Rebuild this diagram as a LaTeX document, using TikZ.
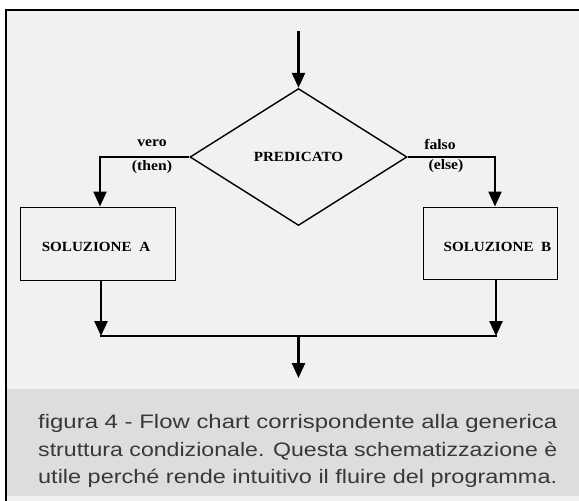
\documentclass[tikz,border=0pt]{standalone}
\usepackage{graphicx}
\usepackage{fontspec}
\setmainfont{Liberation Serif}
\newfontfamily\capfont{Liberation Sans}
\usetikzlibrary{shapes.geometric,arrows.meta}
\definecolor{paper}{HTML}{F1F1F0}
\definecolor{band}{HTML}{DDDDDC}
\definecolor{captext}{HTML}{383838}
\newcommand{\wide}[1]{\scalebox{1.08}[1]{#1}}
\newcommand{\capfit}[1]{\resizebox{519pt}{\height}{#1}}
\begin{document}
\begin{tikzpicture}[x=1pt,y=-1pt,
  flow/.style={line width=2.4pt,-{Triangle[width=13pt,length=15pt]}},
  plain/.style={line width=2.4pt},
  box/.style={draw,line width=1pt,rectangle,inner sep=0pt},
  boxtext/.style={font=\fontsize{14}{16}\selectfont\bfseries,inner sep=0pt},
  lbl/.style={font=\fontsize{14.5}{16}\selectfont\bfseries,inner sep=0pt},
  capline/.style={font=\capfont\fontsize{19.5}{24}\selectfont,text=captext,anchor=base west,inner sep=0pt}]
\useasboundingbox (0,0) rectangle (579,501);
\fill[white] (0,0) rectangle (579,501);
\fill[paper] (6,10) rectangle (579,501);
\fill[band] (6,389) rectangle (579,496);
\draw[line width=2.6pt] (579,10) -- (6,10) -- (6,501);
% nodes
\node[draw,diamond,line width=1.4pt,minimum width=217pt,minimum height=137pt,aspect=1.58,inner sep=0pt,
  font=\fontsize{14}{16}\selectfont\bfseries] (d) at (298.5,157) {\wide{PREDICATO}};
\node[box,minimum width=155pt,minimum height=73pt] (A) at (97.5,243.5) {};
\node[boxtext] (At) at (96,247) {\wide{SOLUZIONE\ \ A}};
\node[box,minimum width=134pt,minimum height=72pt] (B) at (490,243) {};
\node[boxtext] (Bt) at (497.5,247) {\wide{SOLUZIONE\ \ B}};
\coordinate (start) at (298.5,31);
\coordinate (jA) at (101,336);
\coordinate (jB) at (496,336);
\coordinate (jM) at (298.5,336);
\coordinate (out) at (298.5,378);
% labels
\node[lbl] (v) at (152,143) {\wide{vero}};
\node[lbl] (t) at (152,167) {\wide{(then)}};
\node[lbl] (f) at (440,144) {\wide{falso}};
\node[lbl] (e) at (446,166) {\wide{(else)}};
% connectors
\draw[flow] (start) -- (d.north);
\draw[flow] (d.west) -| ([xshift=2.5pt]A.north);
\draw[flow] (d.east) -| ([xshift=5pt]B.north);
\draw[flow] (A.south -| jA) -- (jA);
\draw[flow] (B.south -| jB) -- (jB);
\draw[plain] ([xshift=-1.2pt]jA) -- ([xshift=1.2pt]jB);
\draw[flow] (jM) -- (out);
% caption
\node[capline] (c1) at (38,428) {\capfit{figura 4 - Flow chart corrispondente alla generica}};
\node[capline] (c2) at (38,456) {\capfit{struttura condizionale. Questa schematizzazione è}};
\node[capline] (c3) at (38,483) {\capfit{utile perché rende intuitivo il fluire del programma.}};
\end{tikzpicture}
\end{document}
